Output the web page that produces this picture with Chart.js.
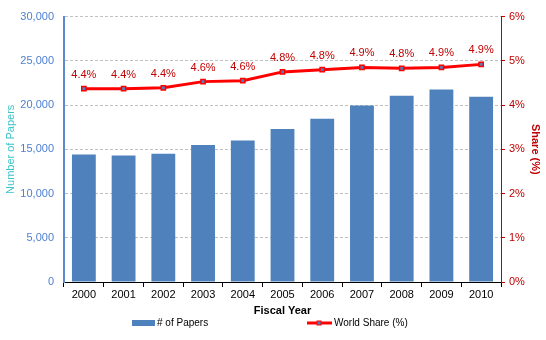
<!DOCTYPE html>
<html>
<head>
<meta charset="utf-8">
<script src="https://cdn.jsdelivr.net/npm/chart.js@4"></script>
<style>
  html, body { margin: 0; padding: 0; background: #fff; }
  #wrap { width: 546px; height: 340px; }
</style>
</head>
<body>
<div id="wrap"><canvas id="myChart" width="546" height="340"></canvas></div>
<script>
const years = ['2000', '2001', '2002', '2003', '2004', '2005', '2006', '2007', '2008', '2009', '2010'];
const papers = [14400, 14300, 14500, 15500, 16000, 17300, 18450, 19950, 21050, 21750, 20950];
const worldShare = [4.37, 4.37, 4.39, 4.53, 4.55, 4.75, 4.80, 4.85, 4.83, 4.85, 4.92];
const shareLabels = ['4.4%', '4.4%', '4.4%', '4.6%', '4.6%', '4.8%', '4.8%', '4.9%', '4.8%', '4.9%', '4.9%'];

const FONT = 'Arial, "Liberation Sans", sans-serif';
const BLUE = '#4f81bd';
const DARKRED = '#c00000';

// etiquetas de datos encima de la linea
const shareLabelPlugin = {
    id: 'shareLabels',
    afterDatasetsDraw(chart) {
        const meta = chart.getDatasetMeta(0);
        const ctx = chart.ctx;
        ctx.save();
        ctx.font = '11px ' + FONT;
        ctx.fillStyle = DARKRED;
        ctx.textAlign = 'center';
        ctx.textBaseline = 'middle';
        meta.data.forEach((pt, i) => {
            ctx.fillText(shareLabels[i], pt.x, pt.y - 14);
        });
        ctx.restore();
    }
};

// leyenda a mano, estilo Excel
const legendPlugin = {
    id: 'customLegend',
    afterDraw(chart) {
        const ctx = chart.ctx;
        const y = 323;
        ctx.save();
        ctx.font = '10px ' + FONT;
        ctx.textBaseline = 'middle';
        ctx.fillStyle = BLUE;
        ctx.fillRect(132, y - 3, 23, 6);
        ctx.fillStyle = '#000';
        ctx.fillText('# of Papers', 157, y);

        ctx.strokeStyle = '#ff0000';
        ctx.lineWidth = 3;
        ctx.beginPath();
        ctx.moveTo(307, y);
        ctx.lineTo(332, y);
        ctx.stroke();
        ctx.fillStyle = BLUE;
        ctx.strokeStyle = '#ff0000';
        ctx.lineWidth = 1;
        ctx.fillRect(317, y - 2, 4, 4);
        ctx.strokeRect(317, y - 2, 4, 4);
        ctx.fillStyle = '#000';
        ctx.fillText('World Share (%)', 334, y);
        ctx.restore();
    }
};

const ctx = document.getElementById('myChart').getContext('2d');
const myChart = new Chart(ctx, {
    type: 'bar',
    data: {
        labels: years,
        datasets: [
            {
                type: 'line',
                label: 'World Share (%)',
                data: worldShare,
                yAxisID: 'y1',
                borderColor: '#ff0000',
                borderWidth: 3,
                pointStyle: 'rect',
                pointRadius: 3,
                pointBackgroundColor: BLUE,
                pointBorderColor: '#ff0000',
                pointBorderWidth: 1.5,
                tension: 0,
                order: 0
            },
            {
                type: 'bar',
                label: '# of Papers',
                data: papers,
                yAxisID: 'y',
                backgroundColor: BLUE,
                barPercentage: 0.6,
                categoryPercentage: 1.0,
                order: 1
            }
        ]
    },
    options: {
        responsive: false,
        animation: false,
        layout: {
            padding: { top: 10, bottom: 22, left: 0, right: 0 }
        },
        plugins: {
            legend: { display: false },
            tooltip: { enabled: false }
        },
        scales: {
            x: {
                offset: true,
                grid: {
                    offset: true,
                    drawOnChartArea: false,
                    drawTicks: true,
                    tickLength: 5,
                    color: '#000'
                },
                border: { color: '#000', width: 1 },
                ticks: {
                    color: '#000',
                    font: { family: FONT, size: 11 },
                    padding: 1,
                    maxRotation: 0
                },
                title: {
                    display: true,
                    text: 'Fiscal Year',
                    color: '#000',
                    font: { family: FONT, size: 11, weight: 'bold' },
                    padding: { top: 2, bottom: 0 }
                },
                afterFit(scale) { scale.height = 36; }
            },
            y: {
                position: 'left',
                min: 0,
                max: 30000,
                ticks: {
                    stepSize: 5000,
                    color: '#4d7fd0',
                    font: { family: FONT, size: 11 },
                    padding: 10,
                    callback: v => v.toLocaleString('en-US')
                },
                grid: {
                    color: '#c0c0c0',
                    drawTicks: false
                },
                // en v4 el dash se aplica a las lineas de grid
                border: { color: '#5a8ad0', width: 2, dash: [3, 2] },
                title: {
                    display: true,
                    text: 'Number of Papers',
                    color: '#3cc4cc',
                    font: { family: FONT, size: 11 },
                    padding: { top: 4, bottom: 0 }
                },
                afterFit(scale) { scale.width = 64; }
            },
            y1: {
                position: 'right',
                min: 0,
                max: 6,
                ticks: {
                    stepSize: 1,
                    color: DARKRED,
                    font: { family: FONT, size: 11 },
                    padding: 4,
                    callback: v => v + '%'
                },
                grid: {
                    drawOnChartArea: false,
                    drawTicks: true,
                    tickLength: 4,
                    color: DARKRED
                },
                border: { color: DARKRED, width: 1 },
                title: {
                    display: true,
                    text: 'Share (%)',
                    color: DARKRED,
                    font: { family: FONT, size: 11, weight: 'bold' },
                    padding: { top: 4, bottom: 0 }
                },
                afterFit(scale) { scale.width = 45; }
            }
        }
    },
    plugins: [shareLabelPlugin, legendPlugin]
});
</script>
</body>
</html>
